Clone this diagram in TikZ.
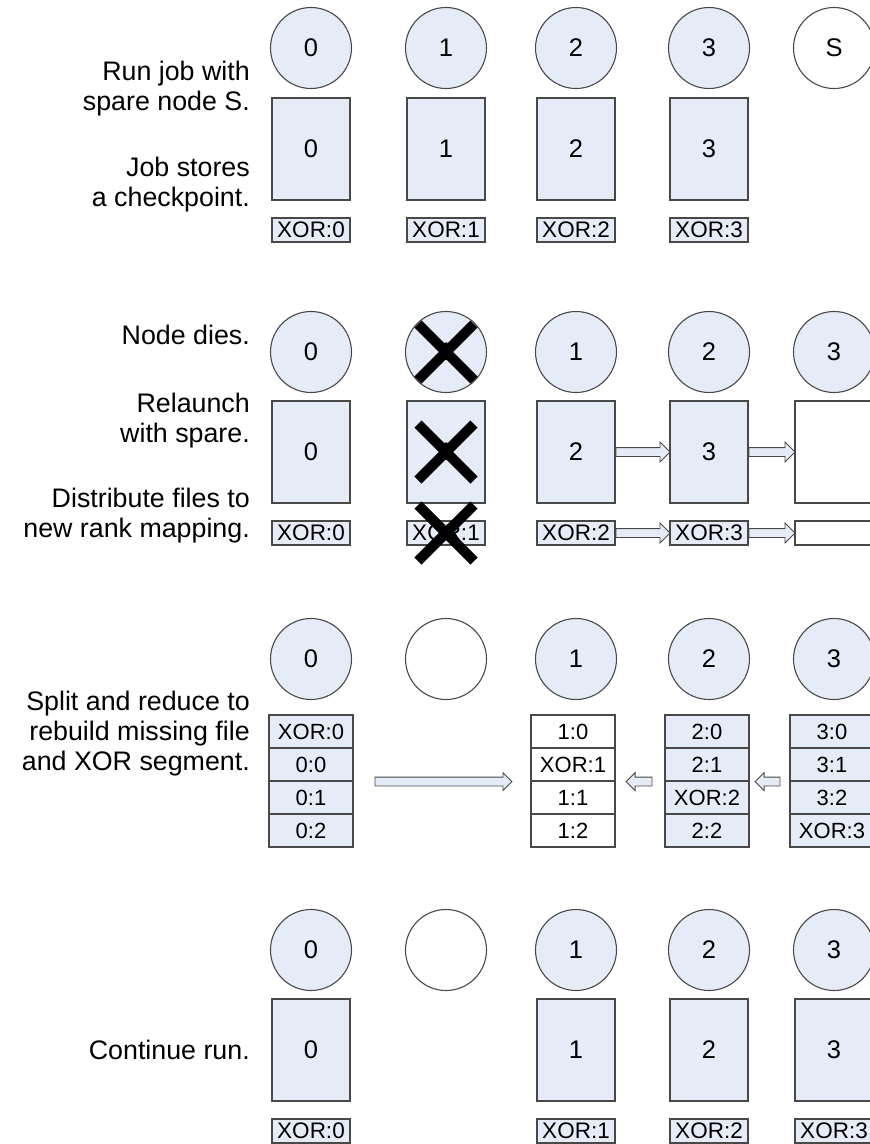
\documentclass[tikz,border=0pt]{standalone}
\usepackage{fontspec}
\setmainfont{Liberation Sans}
\usetikzlibrary{shapes.arrows,calc}

\definecolor{nodefill}{RGB}{230,236,247}
\definecolor{edgegray}{RGB}{72,72,72}

\tikzset{
  rankcirc/.style={circle, draw=edgegray, line width=1.1pt, fill=nodefill,
    minimum size=81pt, inner sep=0pt, font=\fontsize{25.5}{30}\selectfont},
  filebox/.style={rectangle, draw=edgegray, line width=1.1pt, fill=nodefill,
    minimum width=78pt, minimum height=102pt, inner sep=0pt, font=\fontsize{25.5}{30}\selectfont},
  xorbox/.style={filebox, minimum height=24pt, font=\fontsize{22.5}{26}\selectfont},
  cellbox/.style={filebox, minimum width=84pt, minimum height=33pt, font=\fontsize{22}{26}\selectfont},
  blank/.style={fill=white},
  stepnote/.style={anchor=east, align=right, inner sep=0pt, font=\fontsize{26.8}{30}\selectfont},
  hollowR/.style={single arrow, draw=edgegray, fill=nodefill, line width=0.9pt, inner sep=4pt,
    single arrow head extend=5.5pt, single arrow tip angle=90, anchor=tail},
  hollowL/.style={hollowR, shape border rotate=180},
  deadmark/.style={line width=10pt, black}
}

\begin{document}
\begin{tikzpicture}[x=1pt, y=-1pt]
        \useasboundingbox (0,0) rectangle (870,1144);
        \clip (0,0) rectangle (870,1144);

        % row 1: checkpoint
        \node[stepnote] (t11) at (250,89)  {Run job with\\spare node S.};
        \node[stepnote] (t12) at (250,185) {Job stores\\a checkpoint.};
        \node[rankcirc]        (c10) at (311,48) {0};          %
        \node[rankcirc]        (c11) at (446,48) {1};          %
        \node[rankcirc]        (c12) at (576,48) {2};          %
        \node[rankcirc]        (c13) at (709,48) {3};          %
        \node[rankcirc, blank] (c14) at (834,48) {S};          %spare
        \node[filebox] (f10) at (311,149) {0};                 %
        \node[filebox] (f11) at (446,149) {1};                 %
        \node[filebox] (f12) at (576,149) {2};                 %
        \node[filebox] (f13) at (709,149) {3};                 %
        \node[xorbox]  (x10) at (311,230) {XOR:0};             %
        \node[xorbox]  (x11) at (446,230) {XOR:1};             %
        \node[xorbox]  (x12) at (576,230) {XOR:2};             %
        \node[xorbox]  (x13) at (709,230) {XOR:3};             %

        % row 2: failure and relaunch
        \node[stepnote] (t21) at (250,335) {Node dies.};
        \node[stepnote] (t22) at (250,421) {Relaunch\\with spare.};
        \node[stepnote] (t23) at (250,516) {Distribute files to\\new rank mapping.};
        \node[rankcirc] (c20) at (311,352) {0};                %
        \node[rankcirc] (c21) at (446,352) {1};                %dead
        \node[rankcirc] (c22) at (576,352) {1};                %
        \node[rankcirc] (c23) at (709,352) {2};                %
        \node[rankcirc] (c24) at (834,352) {3};                %
        \node[filebox]        (f20) at (311,452) {0};          %
        \node[filebox]        (f21) at (446,452) {1};          %dead
        \node[filebox]        (f22) at (576,452) {2};          %
        \node[filebox]        (f23) at (709,452) {3};          %
        \node[filebox, blank] (f24) at (834,452) {};           %
        \node[xorbox]         (x20) at (311,533) {XOR:0};      %
        \node[xorbox]         (x21) at (446,533) {XOR:1};      %dead
        \node[xorbox]         (x22) at (576,533) {XOR:2};      %
        \node[xorbox]         (x23) at (709,533) {XOR:3};      %
        \node[xorbox, blank]  (x24) at (834,533) {};           %
        \path let \p1=(f22.east), \p2=(f23.west) in node[hollowR, minimum height={\x2-\x1}] (a21) at (\p1) {};
        \path let \p1=(f23.east), \p2=(f24.west) in node[hollowR, minimum height={\x2-\x1}] (a22) at (\p1) {};
        \path let \p1=(x22.east), \p2=(x23.west) in node[hollowR, minimum height={\x2-\x1}] (a23) at (\p1) {};
        \path let \p1=(x23.east), \p2=(x24.west) in node[hollowR, minimum height={\x2-\x1}] (a24) at (\p1) {};
        \foreach \n in {c21,f21,x21}
          \draw[deadmark] ($(\n.center)+(-28,-28)$) -- ($(\n.center)+(28,28)$)
                          ($(\n.center)+(-28,28)$)  -- ($(\n.center)+(28,-28)$);

        % row 3: rebuild
        \node[stepnote] (t31) at (250,734) {Split and reduce to\\rebuild missing file\\and XOR segment.};
        \node[rankcirc]        (c30) at (311,659) {0};         %
        \node[rankcirc, blank] (c31) at (446,659) {};          %
        \node[rankcirc]        (c32) at (576,659) {1};         %
        \node[rankcirc]        (c33) at (709,659) {2};         %
        \node[rankcirc]        (c34) at (834,659) {3};         %
        \foreach \t [count=\i] in {XOR:0,0:0,0:1,0:2}
          \node[cellbox] (s0\i) at (311,698.5+33*\i) {\t};
        \foreach \t [count=\i] in {1:0,XOR:1,1:1,1:2}
          \node[cellbox, blank] (s2\i) at (573,698.5+33*\i) {\t};
        \foreach \t [count=\i] in {2:0,2:1,XOR:2,2:2}
          \node[cellbox] (s3\i) at (707,698.5+33*\i) {\t};
        \foreach \t [count=\i] in {3:0,3:1,3:2,XOR:3}
          \node[cellbox] (s4\i) at (832,698.5+33*\i) {\t};
        \path let \p1=([xshift=21pt]s02.south east), \p2=([xshift=-19pt]s22.south west)
          in node[hollowR, minimum height={\x2-\x1}, single arrow head extend=4.5pt] (a31) at (\p1) {};
        \path let \p1=([xshift=-12pt]s32.south west), \p2=([xshift=11pt]s22.south east)
          in node[hollowL, minimum height={\x1-\x2}, single arrow head extend=4.5pt] (a32) at (\p1) {};
        \path let \p1=([xshift=-9pt]s42.south west), \p2=([xshift=6pt]s32.south east)
          in node[hollowL, minimum height={\x1-\x2}, single arrow head extend=4.5pt] (a33) at (\p1) {};

        % row 4: continue
        \node[stepnote] (t41) at (250,1050) {Continue run.};
        \node[rankcirc]        (c40) at (311,950) {0};         %
        \node[rankcirc, blank] (c41) at (446,950) {};          %
        \node[rankcirc]        (c42) at (576,950) {1};         %
        \node[rankcirc]        (c43) at (709,950) {2};         %
        \node[rankcirc]        (c44) at (834,950) {3};         %
        \node[filebox] (f40) at (311,1050) {0};                %
        \node[filebox] (f42) at (576,1050) {1};                %
        \node[filebox] (f43) at (709,1050) {2};                %
        \node[filebox] (f44) at (834,1050) {3};                %
        \node[xorbox]  (x40) at (311,1131) {XOR:0};            %
        \node[xorbox]  (x42) at (576,1131) {XOR:1};            %
        \node[xorbox]  (x43) at (709,1131) {XOR:2};            %
        \node[xorbox]  (x44) at (834,1131) {XOR:3};            %
\end{tikzpicture}
\end{document}
